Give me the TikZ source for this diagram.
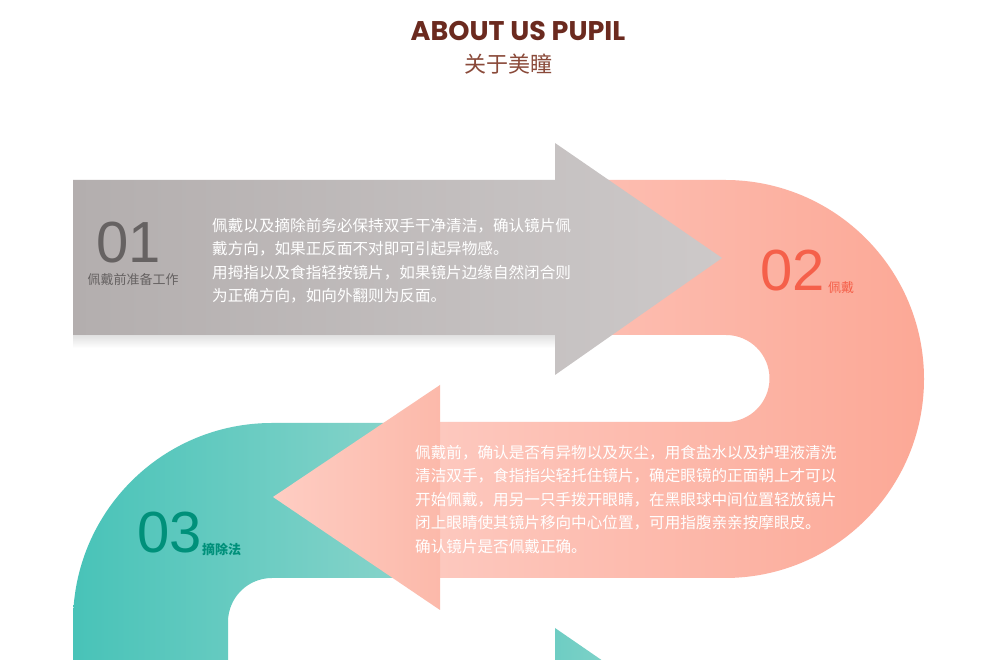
\documentclass[tikz,border=0pt]{standalone}
\usepackage{fontspec}
\setmainfont{Liberation Sans}
\newfontfamily\cjk{Noto Sans CJK SC}
\newfontfamily\titlefont{Poppins}
\usetikzlibrary{shadings}
\definecolor{tbrown}{HTML}{6B2A1F}
\definecolor{tsub}{HTML}{8A4A3A}
\definecolor{numgray}{HTML}{666262}
\definecolor{numred}{HTML}{F5604A}
\definecolor{numteal}{HTML}{00907A}
\tikzset{para/.style={text=white,font=\cjk\fontsize{15.6}{23.5}\selectfont,align=left,anchor=north west,inner sep=0pt},
 small/.style={font=\cjk\fontsize{13}{13}\selectfont,inner sep=0pt},
 big/.style={font=\fontsize{58}{58}\selectfont,inner sep=0pt}}
\begin{document}
\begin{tikzpicture}[x=1pt,y=1pt]
\useasboundingbox (0,0) rectangle (990,660);
\fill[white] (0,0) rectangle (990,660);
% teal band
\shade[left color={rgb,255:red,72;green,195;blue,184},right color={rgb,255:red,142;green,213;blue,204}]
 (440,237) -- (272,237) arc[start angle=90,end angle=180,radius=199] -- (73,0) -- (228,0) -- (228,38) arc[start angle=180,end angle=90,radius=44] -- (440,82) -- cycle;
% teal bottom arrow head
\shade[left color={rgb,255:red,110;green,205;blue,195},right color={rgb,255:red,160;green,220;blue,212}] (555,32) -- (722,-83) -- (555,-200) -- cycle;
% salmon U band
\shade[left color={rgb,255:red,253;green,200;blue,190},right color={rgb,255:red,252;green,168;blue,150}]
 (555,480) -- (725,480) arc[start angle=90,end angle=-90,radius=199] -- (440,82) -- (440,238) -- (726,238) arc[start angle=-90,end angle=90,radius=43.5] -- (555,325) -- cycle;
% salmon bottom arrow head
\shade[left color={rgb,255:red,254;green,205;blue,195},right color={rgb,255:red,252;green,185;blue,170}] (440,275) -- (273,163) -- (440,50) -- cycle;
% gray arrow shadow + arrow
\shade[top color=black!12,bottom color=white] (73,325) rectangle (555,312);
\shade[left color={rgb,255:red,179;green,174;blue,174},right color={rgb,255:red,205;green,201;blue,201}]
 (73,480) -- (555,480) -- (555,517) -- (722,402) -- (555,285) -- (555,325) -- (73,325) -- cycle;
% title
\node[text=tbrown,font=\titlefont\bfseries\fontsize{27}{27}\selectfont,inner sep=0pt] (title) at (518,629) {ABOUT US PUPIL};
\node[text=tsub,font=\cjk\fontsize{22}{22}\selectfont,inner sep=0pt] (sub) at (508,596) {关于美瞳};
% step 1
\node[big,text=numgray] (n1) at (129,417) {01};
\node[small,text=numgray] (l1) at (133,380) {佩戴前准备工作};
\node[para] (p1) at (212,442) {佩戴以及摘除前务必保持双手干净清洁，确认镜片佩\\戴方向，如果正反面不对即可引起异物感。\\用拇指以及食指轻按镜片，如果镜片边缘自然闭合则\\为正确方向，如向外翻则为反面。};
% step 2
\node[big,text=numred,anchor=east] (n2) at (825,389) {02};
\node[small,text=numred,anchor=west] (l2) at (828,372) {佩戴};
\node[para] (p2) at (415,215) {佩戴前，确认是否有异物以及灰尘，用食盐水以及护理液清洗\\清洁双手，食指指尖轻托住镜片，确定眼镜的正面朝上才可以\\开始佩戴，用另一只手拨开眼睛，在黑眼球中间位置轻放镜片\\闭上眼睛使其镜片移向中心位置，可用指腹亲亲按摩眼皮。\\确认镜片是否佩戴正确。};
% step 3
\node[big,text=numteal,anchor=east] (n3) at (202,127) {03};
\node[small,text=numteal,anchor=west,font=\cjk\bfseries\fontsize{13}{13}\selectfont] (l3) at (202,111) {摘除法};
\end{tikzpicture}
\end{document}
